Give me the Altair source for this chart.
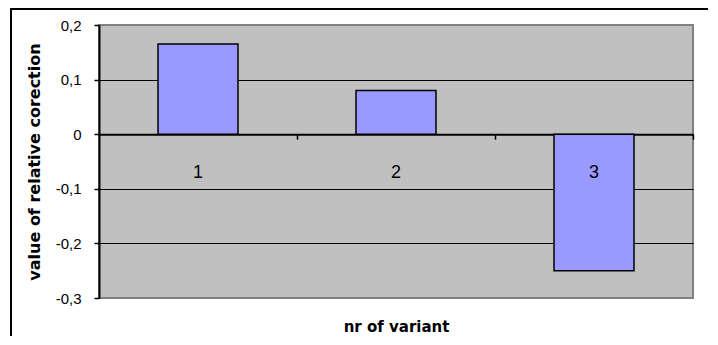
import altair as alt
import pandas as pd

variants = ["1", "2", "3"]
values = [0.165, 0.080, -0.250]
y_ticks = [-0.3, -0.2, -0.1, 0.0, 0.1, 0.2]

df = pd.DataFrame({"variant": variants, "value": values})

W, H = 594, 273
PAD = {"left": 91, "top": 17, "right": 15, "bottom": 38}
zero_from_bottom = H * 0.3 / 0.5
step = W / 3

xscale = alt.Scale(paddingInner=0.596, paddingOuter=0.298)
yscale = alt.Scale(domain=[-0.3, 0.2], nice=False, zero=False)

label_expr = ("datum.value == 0 ? '0' : (datum.value < 0 ? '-' : '') + "
              "replace(format(abs(datum.value), '.1f'), '.', ',')")

base = alt.Chart(df)

bars = base.mark_bar(color="#9999FF", stroke="black", strokeWidth=1.5).encode(
    x=alt.X("variant:N", scale=xscale, sort=variants,
            axis=alt.Axis(title="nr of variant", orient="bottom",
                          offset=-zero_from_bottom, labels=False,
                          domainColor="black", domainWidth=2,
                          tickOffset=step / 2, tickColor="black", tickSize=5, tickWidth=1.5,
                          titleFont="DejaVu Sans", titleFontWeight="bold", titleFontSize=15,
                          titleColor="black", titleY=zero_from_bottom + 33,
                          titleBaseline="alphabetic")),
    y=alt.Y("value:Q", scale=yscale,
            axis=alt.Axis(title="value of relative corection", values=y_ticks,
                          labelExpr=label_expr, labelFont="Liberation Sans", labelFontSize=15,
                          labelColor="black", labelPadding=13,
                          domainColor="black", domainWidth=2,
                          tickColor="black", tickSize=5, tickWidth=1.5,
                          grid=True, gridWidth=1,
                          gridColor=alt.condition(
                              "abs(datum.value - 0.2) < 1e-6 || abs(datum.value + 0.3) < 1e-6",
                              alt.value("transparent"), alt.value("black")),
                          titleFont="DejaVu Sans", titleFontWeight="bold", titleFontSize=16,
                          titleColor="black", titleX=-65, titleBaseline="middle")),
)

labels = base.mark_text(font="Liberation Sans", fontSize=18, color="black",
                        baseline="middle", dy=39).encode(
    x=alt.X("variant:N", sort=variants),
    y=alt.datum(0),
    text="variant:N",
)

border_top = alt.Chart(df).mark_rule(color="black", strokeWidth=2).encode(
    x=alt.value(-PAD["left"] + 2), x2=alt.value(W + PAD["right"]),
    y=alt.value(-PAD["top"] + 1),
)
border_left = alt.Chart(df).mark_rule(color="black", strokeWidth=2).encode(
    x=alt.value(-PAD["left"] + 3), y=alt.value(-PAD["top"]),
    y2=alt.value(H + PAD["bottom"]),
)

chart = alt.layer(bars, labels, border_top, border_left).properties(
    width=W, height=H, padding=PAD, autosize=alt.AutoSizeParams(type="none"),
    background="white",
).configure_view(
    fill="#C0C0C0", stroke="#808080", strokeWidth=2,
)

chart.save("out.html", embed_options={"renderer": "svg", "actions": False})
